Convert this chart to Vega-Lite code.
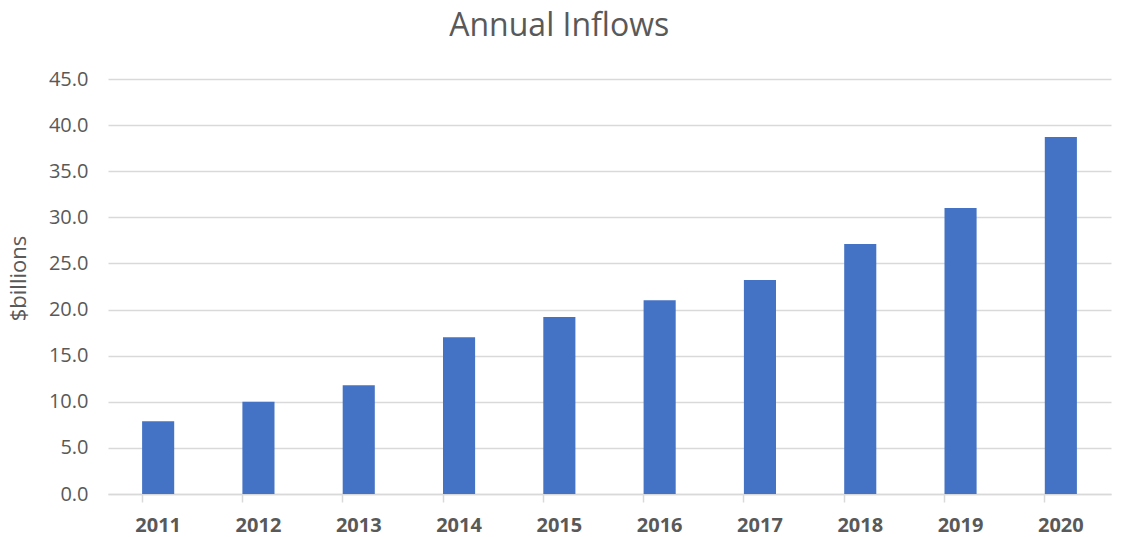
{
  "$schema": "https://vega.github.io/schema/vega-lite/v6.json",
  "width": 1003,
  "height": 415,
  "autosize": "none",
  "padding": {"left": 108, "top": 79, "right": 10, "bottom": 43},
  "background": "white",
  "title": {
    "text": "Annual Inflows",
    "fontSize": 32,
    "font": "Open Sans",
    "fontWeight": "normal",
    "color": "#595959",
    "offset": 26,
    "anchor": "middle",
    "frame": "bounds"
  },
  "data": {
    "values": [
      {"year": "2011", "value": 7.9},
      {"year": "2012", "value": 10.0},
      {"year": "2013", "value": 11.8},
      {"year": "2014", "value": 17.0},
      {"year": "2015", "value": 19.2},
      {"year": "2016", "value": 21.0},
      {"year": "2017", "value": 23.2},
      {"year": "2018", "value": 27.1},
      {"year": "2019", "value": 31.0},
      {"year": "2020", "value": 38.7}
    ]
  },
  "mark": {"type": "bar", "color": "#4472C4"},
  "encoding": {
    "x": {
      "field": "year",
      "type": "nominal",
      "scale": {"paddingInner": 0.68, "paddingOuter": 0.34},
      "axis": {
        "title": null,
        "labelAngle": 0,
        "labelFont": "Open Sans",
        "labelFontSize": 20,
        "labelFontWeight": "bold",
        "labelColor": "#595959",
        "labelPadding": 13,
        "domainColor": "#d9d9d9",
        "domainWidth": 1.5,
        "tickColor": "#d9d9d9",
        "tickWidth": 1.5,
        "tickSize": 8,
        "bandPosition": 0,
        "grid": false
      }
    },
    "y": {
      "field": "value",
      "type": "quantitative",
      "scale": {"domain": [0, 45]},
      "axis": {
        "title": "$billions",
        "titleFont": "Open Sans",
        "titleFontSize": 22,
        "titleFontWeight": "normal",
        "titleColor": "#595959",
        "titlePadding": 18,
        "titleY": 199,
        "values": [0, 5, 10, 15, 20, 25, 30, 35, 40, 45],
        "format": ".1f",
        "labelFont": "Open Sans",
        "labelFontSize": 20,
        "labelColor": "#595959",
        "labelPadding": 20,
        "ticks": false,
        "domain": false,
        "gridColor": "#d9d9d9",
        "gridWidth": 1.5
      }
    }
  },
  "config": {"view": {"stroke": null}}
}
